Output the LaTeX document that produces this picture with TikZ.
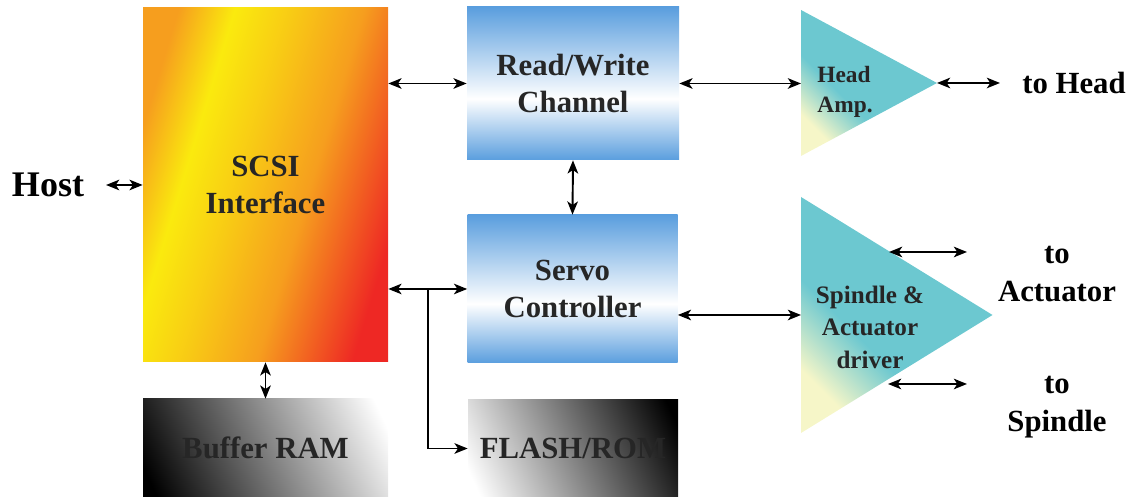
\documentclass[tikz,border=0pt]{standalone}
\usepackage{fontspec}
\setmainfont{Liberation Serif}
\usepackage{xcolor}
\usetikzlibrary{arrows.meta,positioning,calc}

\definecolor{boxblue}{RGB}{90,158,222}
\definecolor{scsiorange}{RGB}{246,158,30}
\definecolor{scsiyellow}{RGB}{250,234,14}
\definecolor{scsired}{RGB}{238,40,36}
\definecolor{ampteal}{RGB}{108,200,208}
\definecolor{ampcream}{RGB}{246,246,200}

\pgfdeclarehorizontalshading{scsishade}{100bp}{color(0bp)=(scsiorange); color(25bp)=(scsiorange); color(35bp)=(scsiyellow); color(45bp)=(scsiyellow!60!scsiorange); color(58bp)=(scsiorange); color(75bp)=(scsired); color(100bp)=(scsired)}
\pgfdeclarehorizontalshading{ramshade}{100bp}{color(0bp)=(black); color(20bp)=(black); color(80bp)=(white); color(100bp)=(white)}
\pgfdeclarehorizontalshading{ampshade}{100bp}{color(0bp)=(ampcream); color(25bp)=(ampcream); color(40bp)=(ampteal); color(100bp)=(ampteal)}
\pgfdeclareverticalshading{blueshade}{100bp}{color(0bp)=(boxblue); color(25bp)=(boxblue); color(45bp)=(white); color(75bp)=(boxblue); color(100bp)=(boxblue)}

\tikzset{
  boxlabel/.style={font=\bfseries\fontsize{17.5}{21}\selectfont, align=center, inner sep=0pt, text=black!85},
  scsibox/.style={boxlabel, shading=scsishade, shading angle=-17},
  bluebox/.style={boxlabel, shading=blueshade},
  rambox/.style={boxlabel, shading=ramshade, shading angle=25},
  flashbox/.style={boxlabel, shading=ramshade, shading angle=205},
  ampfill/.style={shading=ampshade, shading angle=45},
  amplabel/.style={font=\bfseries\fontsize{13.3}{17}\selectfont, align=left, text=black!85},
  drvlabel/.style={font=\bfseries\fontsize{14.3}{18.5}\selectfont, align=center, text=black!85},
  outlabel/.style={font=\bfseries\fontsize{17.5}{21.5}\selectfont, align=center},
  hostlabel/.style={font=\bfseries\fontsize{20.5}{24}\selectfont},
  link/.style={line width=1.1pt}
}

\begin{document}
\begin{tikzpicture}[>={Stealth[length=7.5pt,width=6pt,inset=2pt]}]
  \useasboundingbox (0,0) rectangle (22.66,9.94);
  % SCSI interface + buffer
  \node[scsibox, minimum width=4.9cm, minimum height=7.08cm] (scsi) at (5.31,6.24) {SCSI\\Interface};
  \node[rambox, minimum width=4.9cm, minimum height=1.96cm] (ram) at (5.31,0.98) {Buffer RAM};
  % Channel, servo, flash
  \node[bluebox, minimum width=4.24cm, minimum height=3.06cm] (rw) at (11.46,8.27) {Read/Write\\Channel};
  \node[bluebox, minimum width=4.2cm, minimum height=2.96cm] (servo) at (11.45,4.16) {Servo\\Controller};
  \node[flashbox, minimum width=4.2cm, minimum height=1.94cm] (flash) at (11.46,0.97) {FLASH/ROM};
  % Head amp
  \coordinate (ha-top) at (16.02,9.74);
  \coordinate (ha-bot) at (16.02,6.82);
  \coordinate (ha-tip) at (18.74,8.28);
  \coordinate (ha-in) at (16.02,8.28);
  \coordinate (ha-out) at (20.0,8.28);
  \shade[ampfill] (ha-top) -- (ha-tip) -- (ha-bot) -- cycle;
  \node[amplabel] (halabel) at (16.9,8.10) {Head\\Amp.};
  % Spindle & actuator driver
  \coordinate (sd-top) at (16.02,6.0);
  \coordinate (sd-bot) at (16.02,1.28);
  \coordinate (sd-tip) at (19.85,3.64);
  \coordinate (sd-in) at (16.02,3.64);
  \shade[ampfill] (sd-top) -- (sd-tip) -- (sd-bot) -- cycle;
  \node[drvlabel] (sdlabel) at (17.4,3.4) {Spindle \&\\Actuator\\driver};
  \coordinate (act-in) at (17.78,4.9);
  \coordinate (act-out) at (19.34,4.9);
  \coordinate (spin-in) at (17.76,2.26);
  \coordinate (spin-out) at (19.34,2.26);
  % outer labels
  \node[hostlabel] (host) at (0.96,6.24) {Host};
  \node[outlabel] (tohead) at (21.48,8.28) {to Head};
  \node[outlabel] (toact) at (21.14,4.46) {to\\Actuator};
  \node[outlabel] (tospin) at (21.14,1.79) {to\\Spindle};
  % connectors
  \draw[link, <->] ([xshift=9pt]host.east) -- (host.east -| scsi.west);
  \draw[link, <->] (rw.west -| scsi.east) -- (rw.west);
  \draw[link, <->] (rw.east) -- (rw.east -| ha-in);
  \draw[link, <->] (ha-tip) -- (ha-out);
  \draw[link, <->] (rw.south) -- (servo.north);
  \draw[link, <->] (servo.west -| scsi.east) -- (servo.west);
  \coordinate (branch) at ($(servo.west -| scsi.east)!0.5!(servo.west)$);
  \draw[link, ->] (branch) |- (flash.west);
  \draw[link, <->] (scsi.south) -- (ram.north);
  \draw[link, <->] (servo.east |- sd-in) -- (sd-in);
  \draw[link, <->] (act-in) -- (act-out);
  \draw[link, <->] (spin-in) -- (spin-out);
\end{tikzpicture}
\end{document}
